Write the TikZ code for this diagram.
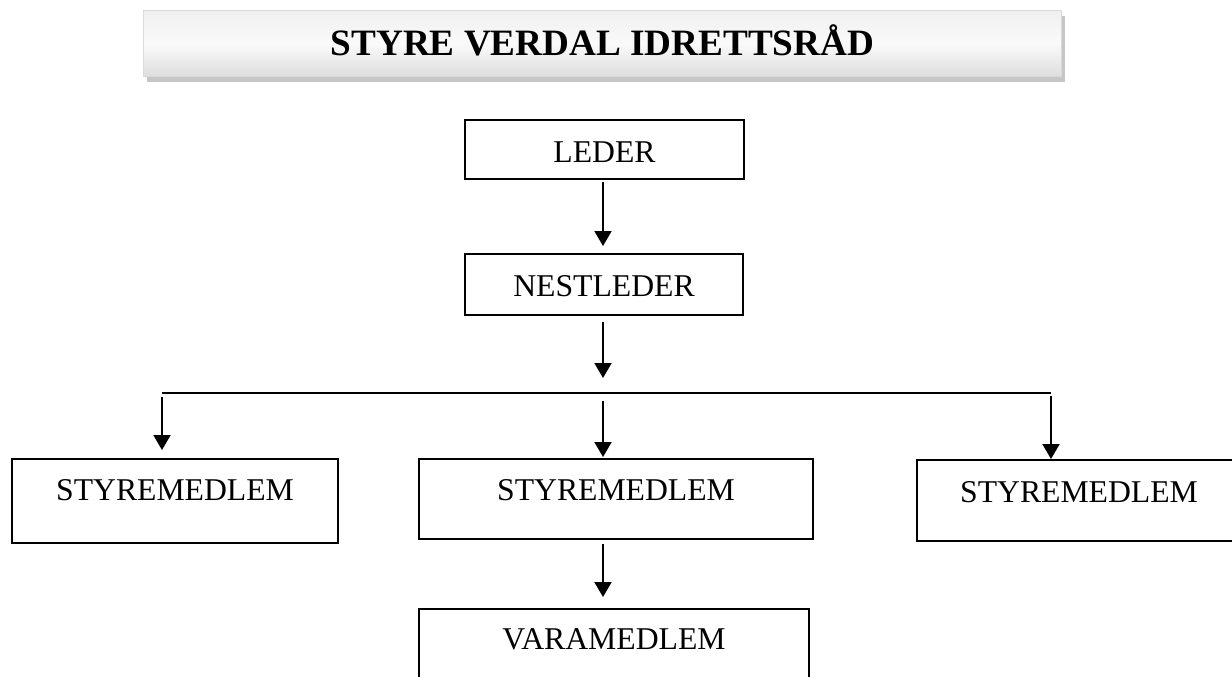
\documentclass[tikz,border=0pt]{standalone}
\usepackage{fontspec}
\setmainfont{Liberation Serif}
\usetikzlibrary{arrows.meta,calc}
\begin{document}
\begin{tikzpicture}[x=1pt,y=-1pt,
  orgbox/.style={draw=black,line width=2pt,inner sep=0pt,anchor=north west,
    font=\fontsize{31.7pt}{38pt}\selectfont},
  conn/.style={line width=2pt,-{Triangle[length=15pt,width=17pt]}},
  busline/.style={line width=2pt}]
\useasboundingbox (0,0) rectangle (1232,677);
\clip (0,0) rectangle (1232,677);
% title
\fill[gray!45] (147,16) rectangle (1065,82);
\node[anchor=north west,inner sep=0pt,minimum width=918pt,minimum height=66pt,
  top color=gray!12,bottom color=gray!26,middle color=gray!4,draw=gray!30,line width=1pt,
  font=\bfseries\fontsize{37.2pt}{40pt}\selectfont,text height=45pt,text depth=21pt]
  (title) at (143,10) {STYRE VERDAL IDRETTSRÅD};
% boxes
\node[orgbox,minimum width=279pt,text height=42pt,text depth=17pt] (leder) at (464,119) {LEDER};
\node[orgbox,minimum width=278pt,text height=42pt,text depth=19pt] (nest) at (464,253) {NESTLEDER};
\node[orgbox,minimum width=326pt,text height=41pt,text depth=43pt] (sm1) at (11,458) {STYREMEDLEM};
\node[orgbox,minimum width=394pt,text height=41pt,text depth=39pt] (sm2) at (418,458) {STYREMEDLEM};
\node[orgbox,minimum width=324pt,text height=42pt,text depth=39pt] (sm3) at (916,459) {STYREMEDLEM};
\node[orgbox,minimum width=390pt,text height=40pt,text depth=60pt] (vara) at (418,608) {VARAMEDLEM};
% bus coordinates
\coordinate (bl) at (162,393);
\coordinate (bm) at (603,393);
\coordinate (br) at (1051,393);
% connectors
\draw[conn,shorten <=2pt,shorten >=7pt] (leder.south -| bm) -- (nest.north -| bm);
\draw[conn,shorten <=6pt,shorten >=15pt] (nest.south -| bm) -- (bm);
\draw[busline] (bl) -- (br);
\draw[conn,shorten <=4pt,shorten >=8pt] (bl) -- (bl |- sm1.north);
\draw[conn,shorten <=8pt,shorten >=1pt] (bm) -- (bm |- sm2.north);
\draw[conn,shorten <=3pt,shorten >=0pt] (br) -- (br |- sm3.north);
\draw[conn,shorten <=4pt,shorten >=11pt] (bm |- sm2.south) -- (bm |- vara.north);
\end{tikzpicture}
\end{document}
